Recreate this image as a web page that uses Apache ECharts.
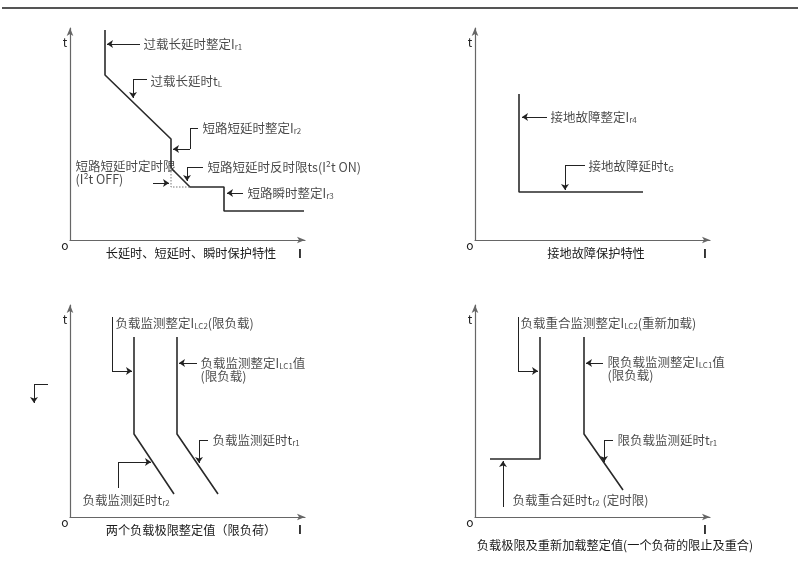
<!DOCTYPE html>
<html>
<head>
<meta charset="utf-8">
<script src="https://cdn.jsdelivr.net/npm/echarts@6/dist/echarts.min.js"></script>
<style>
html, body { margin: 0; padding: 0; background: #fff; }
#chart { width: 800px; height: 562px; }
</style>
</head>
<body>
<div id="chart"></div>
<script>
// 每个面板的坐标: 原点在轴交点, x 向右, t 向上 (单位约等于像素)
// 面板1 长延时、短延时、瞬时保护特性
const p1Curve = [[35, 210], [35, 165], [101, 101], [101, 72], [120, 53], [154, 53], [154, 29], [234, 29]]
const p1Dotted = [[101, 72], [101, 53], [120, 53]]
const p1Leaders = [
  [[70, 196], [37, 196]],
  [[77, 161], [63, 161], [63, 142]],
  [[128, 112], [120, 112], [120, 91], [103, 91]],
  [[133, 73], [117, 73], [117, 59]],
  [[83, 57], [99, 57]],
  [[173, 47], [157, 47]],
]
const p1Notes = [
  [73, 196, '过载长延时整定I{s|r1}'],
  [80, 159, '过载长延时t{s|L}'],
  [132, 112, '短路短延时整定I{s|r2}'],
  [137, 73, '短路短延时反时限ts(I²t ON)'],
  [5, 67.5, '短路短延时定时限\n(I²t OFF)'],
  [177, 47, '短路瞬时整定I{s|r3}'],
]

// 面板2 接地故障保护特性
const p2Curve = [[44, 146], [44, 48], [168, 48]]
const p2Leaders = [
  [[72, 123], [47, 123]],
  [[110, 75], [90, 75], [90, 50]],
]
const p2Notes = [
  [75, 123, '接地故障整定I{s|r4}'],
  [113, 74, '接地故障延时t{s|G}'],
]

// 面板3 两个负载极限整定值
const p3CurveA = [[64, 180], [64, 83], [104, 23]]
const p3CurveB = [[107, 180], [107, 83], [148, 23]]
const p3Leaders = [
  [[42, 200], [42, 146], [62, 146]],
  [[127, 154], [109, 154]],
  [[138, 77], [129, 77], [129, 54]],
  [[48, 29], [48, 55], [81, 55]],
  [[-22, 133], [-36, 133], [-36, 114]],
]
const p3Notes = [
  [45, 194, '负载监测整定I{s|LC2}(限负载)'],
  [130, 147.5, '负载监测整定I{s|LC1}值\n(限负载)'],
  [142, 77, '负载监测延时t{s|r1}'],
  [12, 17, '负载监测延时t{s|r2}'],
]

// 面板4 负载极限及重新加载整定值
const p4CurveA = [[15, 58], [65, 58], [65, 180]]
const p4CurveB = [[109, 180], [109, 83], [148, 27]]
const p4Leaders = [
  [[43, 200], [43, 146], [63, 146]],
  [[128, 154], [111, 154]],
  [[138, 77], [129, 77], [129, 55]],
  [[28, 10], [28, 56]],
]
const p4Notes = [
  [45, 194, '负载重合监测整定I{s|LC2}(重新加载)'],
  [132, 148, '限负载监测整定I{s|LC1}值\n(限负载)'],
  [142, 77, '限负载监测延时t{s|r1}'],
  [37, 17, '负载重合延时t{s|r2} (定时限)'],
]

const panelTitles = [
  '长延时、短延时、瞬时保护特性',
  '接地故障保护特性',
  '两个负载极限整定值（限负荷）',
  '负载极限及重新加载整定值(一个负荷的限止及重合)',
]

const FONT = '"Noto Sans CJK SC", sans-serif'
const grids = [
  { left: 70, top: 28 },
  { left: 475, top: 28 },
  { left: 70, top: 305 },
  { left: 475, top: 305 },
]

function axis(i, max) {
  return {
    gridIndex: i,
    type: 'value',
    min: 0,
    max: max,
    axisLine: {
      show: true,
      symbol: ['none', 'arrow'],
      symbolSize: [5, 8],
      lineStyle: { color: '#666', width: 1.2 },
    },
    axisTick: { show: false },
    axisLabel: { show: false },
    splitLine: { show: false },
  }
}

function curve(i, data, dotted) {
  return {
    type: 'line',
    xAxisIndex: i,
    yAxisIndex: i,
    data: data,
    showSymbol: false,
    symbol: 'none',
    clip: false,
    lineStyle: dotted
      ? { color: '#777', width: 1, type: [1.5, 1.5] }
      : { color: '#2a2a2a', width: 1.6 },
  }
}

// 引线: 折线拆成段, 最后一段带箭头
function leaders(i, list) {
  const data = []
  list.forEach(pts => {
    for (let k = 0; k < pts.length - 1; k++) {
      data.push({
        coords: [pts[k], pts[k + 1]],
        symbol: k === pts.length - 2 ? ['none', 'arrow'] : ['none', 'none'],
      })
    }
  })
  return {
    type: 'lines',
    coordinateSystem: 'cartesian2d',
    xAxisIndex: i,
    yAxisIndex: i,
    symbolSize: [6, 6],
    clip: false,
    lineStyle: { color: '#222', width: 1, opacity: 1 },
    data: data,
  }
}

function notes(i, list) {
  return {
    type: 'scatter',
    xAxisIndex: i,
    yAxisIndex: i,
    symbolSize: 1,
    clip: false,
    itemStyle: { color: 'transparent' },
    label: {
      show: true,
      position: 'right',
      distance: 0,
      color: '#1a1a1a',
      fontFamily: FONT,
      fontSize: 12.5,
      lineHeight: 13,
      formatter: p => p.name,
      rich: {
        s: { fontSize: 8, fontFamily: FONT, color: '#1a1a1a', verticalAlign: 'bottom', lineHeight: 11 },
      },
    },
    data: list.map(n => ({ name: n[2], value: [n[0], n[1]] })),
  }
}

// 轴端的 t / o / I 和面板标题
const marks = []
grids.forEach((g, i) => {
  const ox = g.left
  const oy = g.top + 212
  marks.push({ type: 'text', x: ox - 5, y: g.top + 14, style: { text: 't', font: '12px ' + FONT, fill: '#222', align: 'center', verticalAlign: 'middle' } })
  marks.push({ type: 'text', x: ox - 5, y: oy + 5, style: { text: 'o', font: '12px ' + FONT, fill: '#222', align: 'center', verticalAlign: 'middle' } })
  const iy = i < 2 ? oy + 13 : oy + 12
  marks.push({ type: 'text', x: ox + 230, y: iy, style: { text: 'I', font: 'bold 12px ' + FONT, fill: '#222', align: 'center', verticalAlign: 'middle' } })
  const ty = i < 3 ? oy + 13 : oy + 28
  const tx = i === 3 ? ox + 140 : ox + 121
  marks.push({ type: 'text', x: tx, y: ty, style: { text: panelTitles[i], font: '12.2px ' + FONT, fill: '#1a1a1a', align: 'center', verticalAlign: 'middle' } })
})
marks.push({ type: 'line', shape: { x1: 2, y1: 8, x2: 798, y2: 8 }, style: { stroke: '#555', lineWidth: 2 } })

const chart = echarts.init(document.getElementById('chart'))
chart.setOption({
  backgroundColor: '#fff',
  animation: false,
  grid: grids.map(g => ({ left: g.left, top: g.top, width: 235, height: 212, containLabel: false, outerBoundsMode: 'none' })),
  xAxis: [0, 1, 2, 3].map(i => axis(i, 235)),
  yAxis: [0, 1, 2, 3].map(i => axis(i, 212)),
  graphic: marks,
  series: [
    curve(0, p1Curve),
    curve(0, p1Dotted, true),
    leaders(0, p1Leaders),
    notes(0, p1Notes),
    curve(1, p2Curve),
    leaders(1, p2Leaders),
    notes(1, p2Notes),
    curve(2, p3CurveA),
    curve(2, p3CurveB),
    leaders(2, p3Leaders),
    notes(2, p3Notes),
    curve(3, p4CurveA),
    curve(3, p4CurveB),
    leaders(3, p4Leaders),
    notes(3, p4Notes),
  ],
})
</script>
</body>
</html>
